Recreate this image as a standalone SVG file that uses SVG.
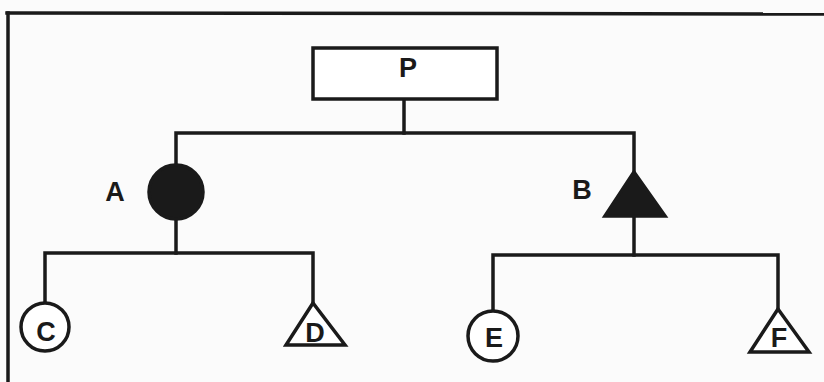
<svg xmlns="http://www.w3.org/2000/svg" width="824" height="382" viewBox="0 0 824 382">
<style>
.ln{stroke:#1a1a1a;stroke-width:3.5;fill:none;stroke-linecap:square}
.open{stroke:#1a1a1a;stroke-width:3.5;fill:#fff}
.solid{stroke:#1a1a1a;stroke-width:3.5;fill:#1a1a1a}
.t{font-family:"Liberation Sans",Arial,sans-serif;font-size:27px;font-weight:bold;fill:#1a1a1a;text-anchor:middle}
</style>
<rect width="824" height="382" fill="#fbfbfb"/>
<g id="frame">
<line class="ln" x1="7" y1="13" x2="824" y2="14"/>
<line class="ln" x1="8" y1="13" x2="8" y2="382"/>
</g>
<g id="connectors">
<polyline class="ln" points="404,99 404,133"/>
<polyline class="ln" points="176,165 176,133 634,133 634,172"/>
<polyline class="ln" points="176,219 176,253"/>
<polyline class="ln" points="45,303 45,253 313,253 313,303"/>
<polyline class="ln" points="634,216 634,255"/>
<polyline class="ln" points="493,310 493,255 778,255 778,309"/>
</g>
<g id="P">
<rect class="open" x="313" y="48" width="184" height="51"/>
<text class="t" x="408" y="77">P</text>
</g>
<g id="A">
<circle class="solid" cx="176" cy="192" r="27"/>
<text class="t" x="115" y="201">A</text>
</g>
<g id="B">
<polygon class="solid" points="634,172 605,216 665,216"/>
<text class="t" x="582" y="199">B</text>
</g>
<g id="C">
<circle class="open" cx="45" cy="327" r="24"/>
<text class="t" x="46" y="341">C</text>
</g>
<g id="D">
<polygon class="open" points="313,303 286,345 345,345"/>
<text class="t" x="315" y="342">D</text>
</g>
<g id="E">
<circle class="open" cx="493" cy="336" r="25"/>
<text class="t" x="494" y="347">E</text>
</g>
<g id="F">
<polygon class="open" points="778,309 750,352 809,352"/>
<text class="t" x="779" y="347">F</text>
</g>
</svg>
